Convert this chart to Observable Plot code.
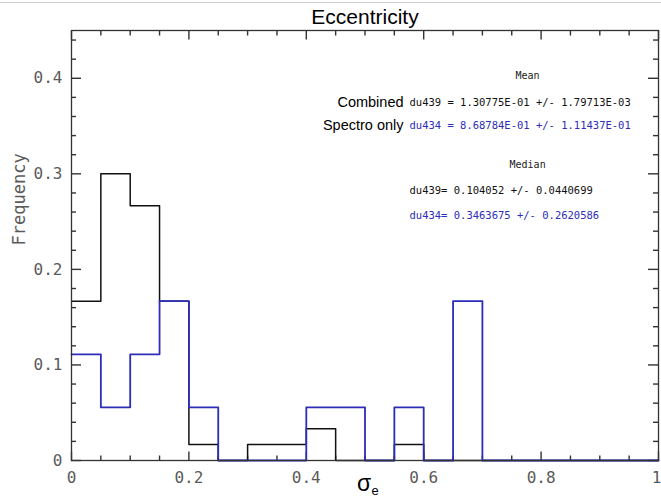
<!DOCTYPE html>
<html>
<head>
<meta charset="utf-8">
<script src="https://cdn.jsdelivr.net/npm/d3@7"></script>
<script src="https://cdn.jsdelivr.net/npm/@observablehq/plot@0.6"></script>
<style>
  html, body { margin: 0; padding: 0; background: #fff; }
  #topline { position: absolute; left: 0; top: 2px; width: 661px; height: 1px; background: #cfcfcf; }
</style>
</head>
<body>
<div id="topline"></div>
<div id="chart"></div>
<script>
// ---- data ----
const binEdges = [0, 0.05, 0.1, 0.15, 0.2, 0.25, 0.3, 0.35, 0.4, 0.45, 0.5,
                  0.55, 0.6, 0.65, 0.7, 0.75, 0.8, 0.85, 0.9, 0.95, 1.0];
const combinedFreq = [0.1667, 0.3, 0.2667, 0.1667, 0.0167, 0, 0.0167, 0.0167, 0.0333, 0,
                      0, 0.0167, 0, 0, 0, 0, 0, 0, 0, 0];
const spectroFreq = [0.1111, 0.0556, 0.1111, 0.1667, 0.0556, 0, 0, 0, 0.0556, 0.0556,
                     0, 0.0556, 0, 0.1667, 0, 0, 0, 0, 0, 0];

const xTickValues = [0, 0.2, 0.4, 0.6, 0.8, 1];
const xTickLabels = ["0", "0.2", "0.4", "0.6", "0.8", "1"];
const yTickValues = [0, 0.1, 0.2, 0.3, 0.4];
const yTickLabels = ["0", "0.1", "0.2", "0.3", "0.4"];

const titleText = "Eccentricity";
const yLabelText = "Frequency";

// annotation texts
const headerTexts = ["Mean", "Median"];
const headerX = [0.777, 0.777];
const headerY = [0.403, 0.3097];
const seriesNames = ["Combined", "Spectro only"];
const seriesNameY = [0.3746, 0.3506];
const statTexts = [
  "du439 = 1.30775E-01 +/- 1.79713E-03",
  "du434 = 8.68784E-01 +/- 1.11437E-01",
  "du439= 0.104052 +/- 0.0440699",
  "du434= 0.3463675 +/- 0.2620586"
];
const statY = [0.3746, 0.3506, 0.2825, 0.2564];
const statSeries = ["combined", "spectro", "combined", "spectro"];
const annotX = 0.5656;

// ---- build ----
const BLUE = "#2d2db8";
const X0 = 0, X1 = 1, Y0 = 0, Y1 = 0.45;
const W = 661, H = 497, ML = 71, MR = 3, MT = 30, MB = 37;
const xpx = (X1 - X0) / (W - ML - MR);   // data units per pixel
const ypx = (Y1 - Y0) / (H - MT - MB);

const toSteps = (vals) => binEdges.map((x, i) => ({x, y: i < vals.length ? vals[i] : vals[vals.length - 1]}));
const combinedSteps = toSteps(combinedFreq);
const spectroSteps = toSteps(spectroFreq);

const near = (v, step) => Math.abs(v / step - Math.round(v / step)) < 1e-6;
const xMinor = d3.range(0, 1.0001, 0.05).map(v => +v.toFixed(2)).filter(v => !near(v, 0.2));
const yMinor = d3.range(0, 0.4501, 0.02).map(v => +v.toFixed(2)).filter(v => !near(v, 0.1) && v > 0 && v < Y1);

// inward tick segments on all four sides
const xSegs = [];
for (const [vals, len] of [[xTickValues, 9], [xMinor, 5]]) {
  for (const v of vals) {
    xSegs.push({x: v, y1: Y0, y2: Y0 + len * ypx});
    xSegs.push({x: v, y1: Y1 - len * ypx, y2: Y1});
  }
}
const ySegs = [];
for (const [vals, len] of [[yTickValues, 10], [yMinor, 5]]) {
  for (const v of vals) {
    ySegs.push({y: v, x1: X0, x2: X0 + len * xpx});
    ySegs.push({y: v, x1: X1 - len * xpx, x2: X1});
  }
}

const mono = "DejaVu Sans Mono";
const sans = "Liberation Sans, Arial, sans-serif";
const TK = "#333";

const labelStyle = {tickSize: 0, fontSize: 16, fontFamily: mono, fill: "#5a5a5a", stroke: null};
const xLabelOf = d => xTickLabels[xTickValues.indexOf(d)];

const chart = Plot.plot({
  width: W,
  height: H,
  marginLeft: ML,
  marginRight: MR,
  marginTop: MT,
  marginBottom: MB,
  x: {domain: [X0, X1], label: null},
  y: {domain: [Y0, Y1], label: null},
  style: {background: "white", color: "#222", fontFamily: mono},
  marks: [
    Plot.link(xSegs, {x1: "x", x2: "x", y1: "y1", y2: "y2", stroke: TK, strokeWidth: 1.4}),
    Plot.ruleY(ySegs, {y: "y", x1: "x1", x2: "x2", stroke: TK, strokeWidth: 1.4}),
    // tick labels
    Plot.axisX({anchor: "bottom", ticks: xTickValues.slice(0, -1), tickPadding: 11, tickFormat: xLabelOf, ...labelStyle}),
    Plot.axisX({anchor: "bottom", ticks: xTickValues.slice(-1), tickPadding: 11, dx: -2, tickFormat: xLabelOf, ...labelStyle}),
    Plot.axisY({anchor: "left", ticks: yTickValues, tickPadding: 9,
      tickFormat: (d) => yTickLabels[yTickValues.indexOf(d)], ...labelStyle}),
    // histograms
    Plot.lineY(combinedSteps, {x: "x", y: "y", curve: "step-after", stroke: "#111", strokeWidth: 1.5}),
    Plot.lineY(spectroSteps, {x: "x", y: "y", curve: "step-after", stroke: BLUE, strokeWidth: 1.8}),
    Plot.frame({stroke: "#333", strokeWidth: 1.3}),
    // titles
    Plot.text([titleText], {frameAnchor: "top", lineAnchor: "middle", dy: -13, fontSize: 21, fontFamily: sans, fill: "#000"}),
    Plot.text([yLabelText], {frameAnchor: "left", lineAnchor: "middle", rotate: -90, dx: -52, fontSize: 17, fontFamily: mono, fill: "#5a5a5a"}),
    Plot.text(["σ"], {frameAnchor: "bottom", lineAnchor: "middle", dx: -1, dy: 23, fontSize: 23, fontFamily: sans, fill: "#000"}),
    Plot.text(["e"], {frameAnchor: "bottom", lineAnchor: "middle", dx: 10, dy: 30, fontSize: 13, fontFamily: sans, fill: "#000"}),
    // annotations
    Plot.text(headerTexts, {x: (d, i) => headerX[i], y: (d, i) => headerY[i], text: d => d,
      fontSize: 10, fontFamily: mono, fill: "#222"}),
    Plot.text(seriesNames, {x: annotX, y: (d, i) => seriesNameY[i], text: d => d, textAnchor: "end",
      fontSize: 14.5, fontFamily: sans, fill: "#000"}),
    Plot.text(statTexts, {x: annotX, dx: 6, y: (d, i) => statY[i], text: d => d, textAnchor: "start",
      fontSize: 10.5, fontFamily: mono, fill: (d, i) => statSeries[i] === "spectro" ? BLUE : "#111"})
  ]
});
document.getElementById("chart").appendChild(chart);
</script>
</body>
</html>
